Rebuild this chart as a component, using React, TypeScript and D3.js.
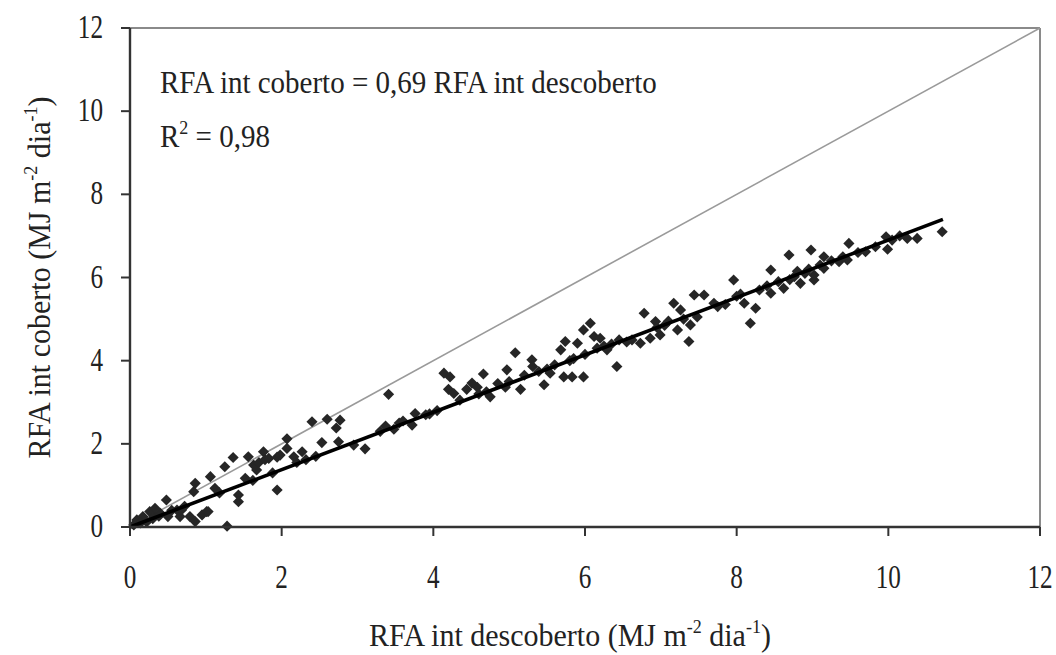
import React from "react";
import * as d3 from "d3";

// Intercepted PAR: uncovered (descoberto) vs covered (coberto), MJ m-2 dia-1
const descoberto = [
  0.05, 0.09, 0.17, 0.22, 0.26, 0.29, 0.33, 0.30, 0.40, 0.48, 0.50, 0.55, 0.62, 0.66, 0.68,
  0.79, 0.84, 0.86, 0.86, 0.95, 1.01, 1.03, 1.06, 1.12, 1.25, 1.28, 1.36, 1.43, 1.43, 1.52,
  1.56, 1.63, 1.67, 1.70, 1.76, 1.78, 1.83, 1.94, 1.94, 1.98, 2.07, 2.07, 2.16, 2.27, 2.32,
  2.40, 2.53, 2.60, 2.72, 2.75, 2.77, 2.95, 3.10, 3.37, 3.41, 3.48, 3.55, 3.60, 3.72, 3.76,
  3.90, 3.95, 4.14, 4.22, 4.20, 4.27, 4.35, 4.44, 4.51, 4.58, 4.60, 4.66, 4.75, 4.85, 4.97,
  4.95, 5.00, 5.08, 5.15, 5.20, 5.30, 5.31, 5.39, 5.46, 5.54, 5.60, 5.68, 5.74, 5.72, 5.83,
  5.85, 5.98, 5.90, 5.98, 6.00, 6.07, 6.12, 6.16, 6.20, 6.25, 6.29, 6.35, 6.42, 6.55, 6.62,
  6.78, 6.73, 6.86, 6.99, 6.93, 7.05, 7.10, 7.17, 7.22, 7.26, 7.39, 7.37, 7.44, 7.48, 7.57,
  7.70, 7.85, 7.96, 8.00, 8.10, 8.25, 8.18, 8.30, 8.45, 8.45, 8.55, 8.62, 8.69, 8.70, 8.76,
  8.80, 8.84, 8.90, 8.98, 9.02, 9.02, 9.10, 9.15, 9.15, 9.25, 9.35, 9.48, 9.46, 9.60, 9.70,
  9.83, 9.97, 9.99, 10.05, 10.25, 10.38, 10.71,
  0.14, 0.38, 0.72, 1.18, 1.62, 1.88, 2.20, 2.45, 3.30, 4.05, 4.70, 5.50, 5.80, 6.45, 6.95,
  7.30, 7.75, 8.05, 8.40, 8.95, 9.40, 10.15,
];
const coberto = [
  0.05, 0.17, 0.25, 0.12, 0.37, 0.33, 0.45, 0.20, 0.33, 0.65, 0.25, 0.40, 0.41, 0.25, 0.41,
  0.25, 0.85, 1.05, 0.13, 0.29, 0.37, 0.37, 1.21, 0.93, 1.45, 0.02, 1.67, 0.77, 0.61, 1.17,
  1.69, 1.49, 1.37, 1.55, 1.81, 1.62, 1.65, 1.68, 0.89, 1.73, 1.89, 2.12, 1.69, 1.81, 1.62,
  2.53, 2.03, 2.59, 2.38, 2.05, 2.57, 1.97, 1.88, 2.43, 3.19, 2.35, 2.50, 2.55, 2.45, 2.73,
  2.70, 2.72, 3.70, 3.61, 3.31, 3.21, 3.05, 3.31, 3.46, 3.36, 3.20, 3.68, 3.13, 3.45, 3.78,
  3.36, 3.50, 4.19, 3.31, 3.65, 4.02, 3.86, 3.74, 3.42, 3.70, 3.90, 4.26, 4.46, 3.61, 3.61,
  4.05, 3.61, 4.42, 4.74, 4.15, 4.90, 4.58, 4.30, 4.54, 4.35, 4.26, 4.40, 3.86, 4.45, 4.50,
  5.14, 4.42, 4.54, 4.62, 4.94, 4.85, 4.95, 5.38, 4.74, 5.22, 4.86, 4.46, 5.58, 5.05, 5.58,
  5.38, 5.35, 5.94, 5.55, 5.38, 5.26, 4.90, 5.70, 6.18, 5.62, 5.90, 5.74, 6.54, 5.95, 6.02,
  6.15, 5.86, 6.10, 6.66, 5.94, 6.06, 6.30, 6.50, 6.22, 6.40, 6.38, 6.82, 6.42, 6.60, 6.62,
  6.74, 6.98, 6.68, 6.90, 6.94, 6.94, 7.10,
  0.10, 0.26, 0.50, 0.82, 1.12, 1.30, 1.55, 1.70, 2.30, 2.80, 3.25, 3.80, 4.00, 4.50, 4.80,
  5.00, 5.30, 5.60, 5.80, 6.20, 6.50, 7.00,
];

// Fitted regression through the origin
const slope = 0.69;
const fitMax = 10.72;
const xTicks = [0, 2, 4, 6, 8, 10, 12];
const yTicks = [0, 2, 4, 6, 8, 10, 12];

const W = 1056;
const H = 655;
const left = 130;
const right = 1040;
const top = 28;
const bottom = 527;

const serif = "'Liberation Serif', 'Times New Roman', serif";

export default function App() {
  const x = d3.scaleLinear().domain([0, 12]).range([left, right]);
  const y = d3.scaleLinear().domain([0, 12]).range([bottom, top]);
  const diamond = d3.symbol().type(d3.symbolSquare).size(62)();
  const line = d3
    .line<[number, number]>()
    .x((d) => x(d[0]))
    .y((d) => y(d[1]));

  const points = descoberto.map((v, i) => [v, coberto[i]] as [number, number]);

  return (
    <svg
      width={W}
      height={H}
      style={{ position: "absolute", left: 0, top: 0, background: "#fff" }}
      fontFamily={serif}
    >
      {/* frame: gray top and right edges */}
      <line x1={left} y1={top} x2={right} y2={top} stroke="#8a8a8a" strokeWidth={2} />
      <line x1={right} y1={top} x2={right} y2={bottom} stroke="#8a8a8a" strokeWidth={2} />

      {/* 1:1 reference line */}
      <path d={line([[0, 0], [12, 12]]) || ""} stroke="#9a9a9a" strokeWidth={1.6} fill="none" />

      {/* observations */}
      {points.map((p, i) => (
        <path
          key={i}
          d={diamond || ""}
          transform={`translate(${x(p[0])},${y(p[1])}) rotate(45)`}
          fill="#262626"
        />
      ))}

      {/* regression line */}
      <path d={line([[0, 0], [fitMax, slope * fitMax]]) || ""} stroke="#000" strokeWidth={3.6} fill="none" />

      {/* axes */}
      <line x1={left} y1={top} x2={left} y2={bottom + 1} stroke="#333" strokeWidth={2.4} />
      <line x1={left - 1} y1={bottom} x2={right} y2={bottom} stroke="#333" strokeWidth={2.4} />

      {yTicks.map((t) => (
        <g key={"y" + t}>
          <line x1={left - 9} x2={left} y1={y(t)} y2={y(t)} stroke="#333" strokeWidth={2} />
          <text
            transform={`translate(103,${y(t) + 10}) scale(0.9,1.2)`}
            textAnchor="end"
            fontSize={28}
            fill="#222"
          >
            {t}
          </text>
        </g>
      ))}
      {xTicks.map((t) => (
        <g key={"x" + t}>
          <line x1={x(t)} x2={x(t)} y1={bottom} y2={bottom + 9} stroke="#333" strokeWidth={2} />
          <text
            transform={`translate(${x(t)},588) scale(0.9,1.2)`}
            textAnchor="middle"
            fontSize={28}
            fill="#222"
          >
            {t}
          </text>
        </g>
      ))}

      {/* equation */}
      <text transform="translate(160,93) scale(1,1.08)" fontSize={29} fill="#222">
        RFA int coberto = 0,69 RFA int descoberto
      </text>
      <text transform="translate(160,147) scale(1,1.08)" fontSize={29} fill="#222">
        R<tspan dy={-12} fontSize={18}>2</tspan>
        <tspan dy={12}> = 0,98</tspan>
      </text>

      {/* axis titles */}
      <text
        transform="translate(570,646) scale(1,1.08)"
        textAnchor="middle"
        fontSize={30}
        fill="#222"
      >
        RFA int descoberto (MJ m<tspan dy={-12} fontSize={18}>-2</tspan>
        <tspan dy={12}> dia</tspan>
        <tspan dy={-12} fontSize={18}>-1</tspan>
        <tspan dy={12}>)</tspan>
      </text>
      <text
        transform={`translate(50,${(top + bottom) / 2}) rotate(-90) scale(1,1.08)`}
        textAnchor="middle"
        fontSize={30}
        fill="#222"
      >
        RFA int coberto (MJ m<tspan dy={-12} fontSize={18}>-2</tspan>
        <tspan dy={12}> dia</tspan>
        <tspan dy={-12} fontSize={18}>-1</tspan>
        <tspan dy={12}>)</tspan>
      </text>
    </svg>
  );
}
